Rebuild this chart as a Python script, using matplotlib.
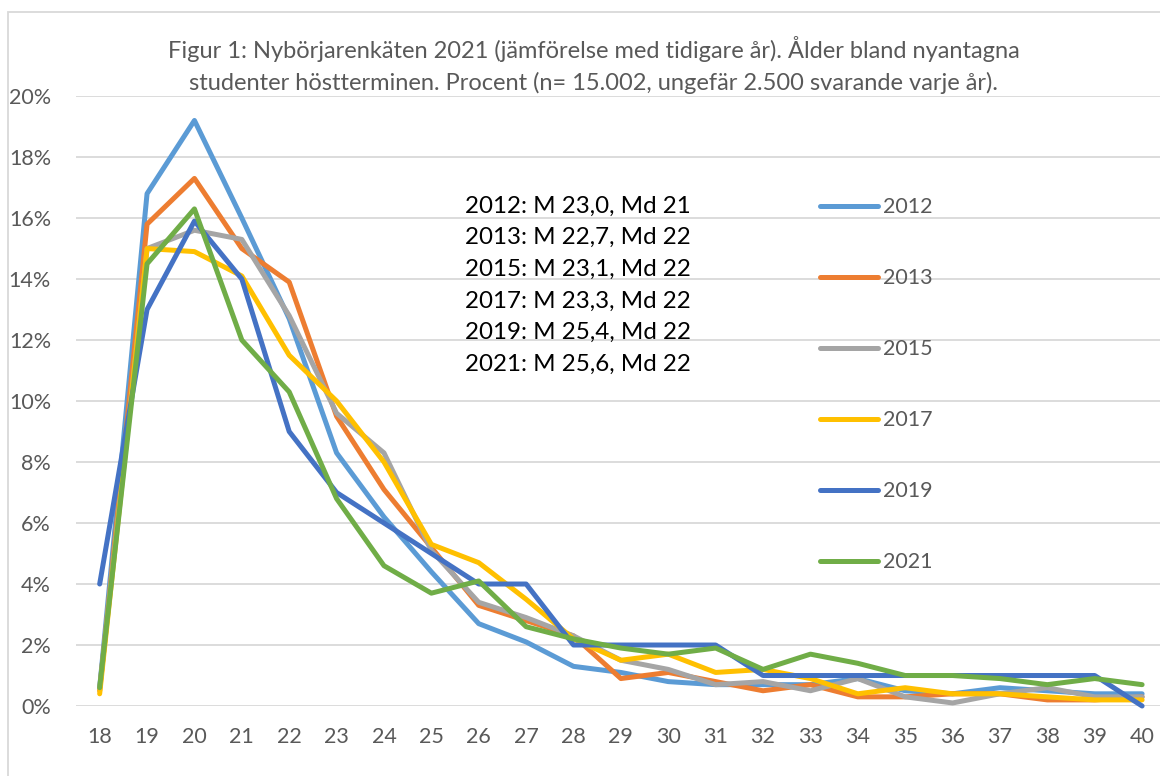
import numpy as np
import matplotlib

matplotlib.use("Agg")
import matplotlib.pyplot as plt
from matplotlib.patches import Rectangle

plt.rcParams["font.family"] = ["Lato", "DejaVu Sans"]

# ── data (percent per age) ──
ages = list(range(18, 41))
years = ["2012", "2013", "2015", "2017", "2019", "2021"]

y2012 = [0.6, 16.8, 19.2, 16.0, 12.7, 8.3, 6.2, 4.4, 2.7, 2.1, 1.3, 1.1, 0.8, 0.7,
         0.7, 0.7, 0.9, 0.5, 0.4, 0.6, 0.5, 0.4, 0.4]
y2013 = [0.5, 15.8, 17.3, 15.0, 13.9, 9.5, 7.1, 5.2, 3.3, 2.8, 2.3, 0.9, 1.1, 0.8,
         0.5, 0.7, 0.3, 0.3, 0.4, 0.4, 0.2, 0.2, 0.3]
y2015 = [0.6, 15.0, 15.6, 15.3, 12.8, 9.6, 8.3, 5.1, 3.4, 2.9, 2.3, 1.5, 1.2, 0.7,
         0.8, 0.5, 0.9, 0.3, 0.1, 0.4, 0.6, 0.3, 0.3]
y2017 = [0.4, 15.0, 14.9, 14.1, 11.5, 10.0, 8.0, 5.3, 4.7, 3.5, 2.2, 1.5, 1.7, 1.1,
         1.2, 0.9, 0.4, 0.6, 0.4, 0.4, 0.3, 0.2, 0.2]
y2019 = [4.0, 13.0, 15.9, 14.0, 9.0, 7.0, 6.0, 5.0, 4.0, 4.0, 2.0, 2.0, 2.0, 2.0,
         1.0, 1.0, 1.0, 1.0, 1.0, 1.0, 1.0, 1.0, 0.0]
y2021 = [0.6, 14.5, 16.3, 12.0, 10.3, 6.8, 4.6, 3.7, 4.1, 2.6, 2.2, 1.9, 1.7, 1.9,
         1.2, 1.7, 1.4, 1.0, 1.0, 0.9, 0.7, 0.9, 0.7]

series = [y2012, y2013, y2015, y2017, y2019, y2021]
colors = ["#5B9BD5", "#ED7D31", "#A5A5A5", "#FFC000", "#4472C4", "#70AD47"]

stats = [
    "2012: M 23,0, Md 21",
    "2013: M 22,7, Md 22",
    "2015: M 23,1, Md 22",
    "2017: M 23,3, Md 22",
    "2019: M 25,4, Md 22",
    "2021: M 25,6, Md 22",
]

title = ("Figur 1: Nybörjarenkäten 2021 (jämförelse med tidigare år). Ålder bland nyantagna\n"
         "studenter höstterminen. Procent (n= 15.002, ungefär 2.500 svarande varje år).")

grey = "#595959"

fig = plt.figure(figsize=(11.6, 7.76), dpi=100)
ax = fig.add_axes([0.0655, 0.0902, 0.9395, 0.786])

# outer chart border
fig.patches.append(Rectangle((8 / 1160, -0.1), 1.2, (776 - 12) / 776 + 0.1,
                             transform=fig.transFigure, fill=False,
                             edgecolor="#D9D9D9", linewidth=1.3))

for vals, c, lab in zip(series, colors, years):
    ax.plot(ages, vals, color=c, lw=3.6, solid_capstyle="round",
            solid_joinstyle="round", label=lab, clip_on=False)

ax.set_xlim(17.5, 40.5)
ax.set_ylim(0, 20)
ax.set_yticks(np.arange(0, 21, 2))
ax.set_yticklabels([f"{v}%" for v in range(0, 21, 2)])
ax.set_xticks(ages)
ax.grid(axis="y", color="#D9D9D9", lw=1.3)
ax.set_axisbelow(True)
for s in ax.spines.values():
    s.set_visible(False)
ax.tick_params(length=0, labelsize=15.5, colors=grey)
ax.tick_params(axis="x", pad=15)
ax.tick_params(axis="y", pad=18)

fig.text(0.512, 0.916, title, ha="center", va="center", fontsize=17,
         color=grey, linespacing=1.55)

ax.text(0.357, 0.837, "\n".join(stats), transform=ax.transAxes, ha="left",
        va="top", fontsize=17.4, color="black", linespacing=1.63)

leg = ax.legend(loc="upper left", bbox_to_anchor=(0.665, 0.866), frameon=False,
                fontsize=15.5, labelspacing=2.37, handlelength=2.7,
                handletextpad=0.2, labelcolor=grey)

fig.savefig("out.png", dpi=100)
